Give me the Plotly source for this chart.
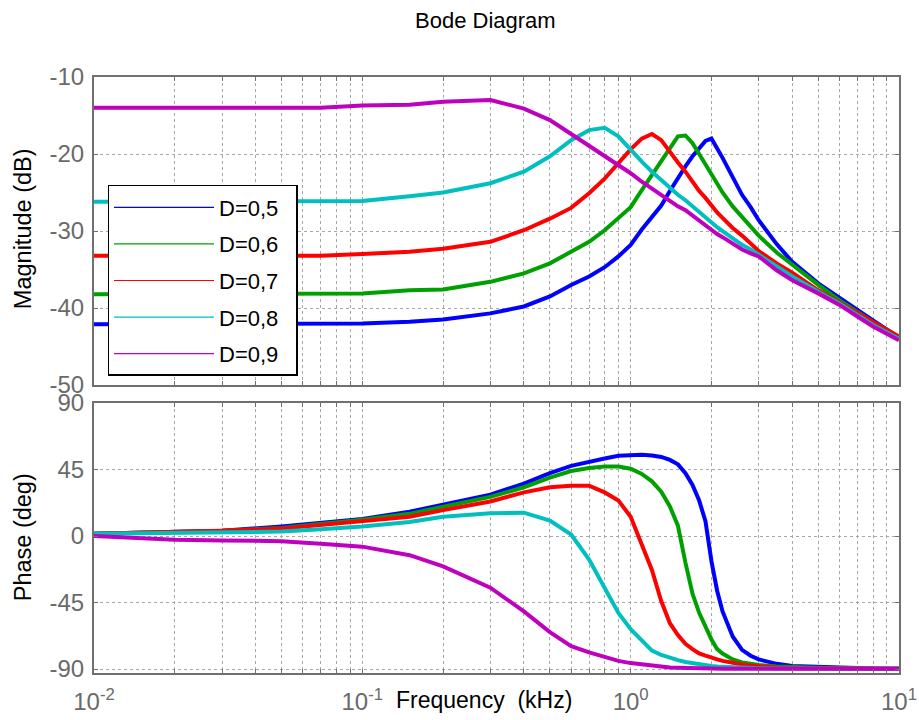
import plotly.graph_objects as go

# Frequency grid (kHz) shared by all curves
freq_khz = [0.01, 0.02, 0.03, 0.05, 0.07, 0.1, 0.15, 0.2, 0.3, 0.4, 0.5, 0.6, 0.7, 0.8, 0.9,
            1.0, 1.1, 1.2, 1.3, 1.4, 1.5, 1.6, 1.7, 1.8, 1.9, 2.0, 2.1, 2.2, 2.4, 2.6, 2.8,
            3.0, 3.5, 4.0, 5.0, 6.0, 7.0, 8.0, 10.0]

series_names = ["D=0,5", "D=0,6", "D=0,7", "D=0,8", "D=0,9"]
series_colors = ["#0000FF", "#00A000", "#FF0000", "#00BFBF", "#BF00BF"]

# Magnitude (dB)
mag_d05 = [-42.1, -42.1, -42.1, -42.1, -42.1, -42.0, -41.8, -41.5, -40.7, -39.8, -38.5, -37.0, -35.9,
           -34.7, -33.3, -31.8, -29.8, -28.1, -26.7, -24.8, -23.1, -21.6, -20.3, -19.2, -18.3, -18.0,
           -19.2, -20.5, -23.0, -25.3, -26.9, -28.6, -31.7, -34.0, -36.8, -38.7, -40.3, -41.6, -43.8]
mag_d06 = [-38.2, -38.2, -38.2, -38.2, -38.2, -38.1, -37.7, -37.6, -36.6, -35.5, -34.2, -32.7, -31.4,
           -29.9, -28.4, -26.9, -24.7, -22.7, -20.9, -19.1, -17.7, -17.6, -18.6, -20.0, -21.4, -22.7,
           -23.9, -25.0, -26.8, -28.2, -29.4, -30.6, -32.8, -34.4, -37.0, -39.0, -40.5, -41.8, -43.8]
mag_d07 = [-33.2, -33.2, -33.2, -33.2, -33.2, -33.0, -32.7, -32.3, -31.4, -29.9, -28.4, -27.0, -25.1,
           -23.2, -21.2, -19.4, -18.0, -17.4, -18.2, -19.8, -21.1, -22.3, -23.6, -24.8, -25.7, -26.7,
           -27.6, -28.3, -29.6, -30.6, -31.6, -32.6, -34.2, -35.4, -37.7, -39.2, -40.6, -41.8, -43.7]
mag_d08 = [-26.2, -26.2, -26.2, -26.2, -26.2, -26.1, -25.5, -25.0, -23.8, -22.3, -20.3, -18.2, -16.9,
           -16.6, -17.7, -19.5, -21.0, -22.3, -23.4, -24.5, -25.3, -26.0, -26.8, -27.4, -28.1, -28.8,
           -29.5, -30.0, -30.9, -31.8, -32.4, -33.1, -34.7, -35.9, -37.9, -39.4, -40.9, -42.2, -44.0]
mag_d09 = [-14.0, -14.0, -14.0, -14.0, -14.0, -13.7, -13.6, -13.2, -13.0, -14.1, -15.6, -17.4, -18.9,
           -20.3, -21.4, -22.5, -23.6, -24.5, -25.3, -26.1, -26.8, -27.3, -28.0, -28.7, -29.3, -29.8,
           -30.4, -30.8, -31.7, -32.4, -32.9, -33.3, -35.1, -36.4, -38.1, -39.6, -41.1, -42.4, -44.2]

# Phase (deg)
phase_d05 = [1.5, 2.5, 3.5, 6.5, 9.0, 11.5, 16.5, 21.0, 28.0, 35.5, 42.5, 47.5, 50.5, 52.5, 54.3,
             55.0, 55.0, 54.5, 53.5, 51.5, 48.5, 42.5, 34.5, 24.0, 10.0, -17.0, -37.0, -51.0, -68.0,
             -77.0, -81.0, -83.5, -86.5, -88.0, -88.7, -89.2, -89.5, -89.7, -89.8]
phase_d06 = [1.5, 2.5, 3.5, 5.5, 8.0, 11.0, 15.0, 19.5, 26.5, 33.0, 39.5, 44.0, 46.0, 47.0, 47.0,
             45.5, 42.0, 37.0, 30.0, 20.0, 7.0, -18.0, -39.0, -52.0, -62.0, -70.0, -76.5, -79.5,
             -83.5, -85.5, -86.5, -87.3, -88.3, -88.8, -89.2, -89.5, -89.6, -89.7, -89.8]
phase_d07 = [1.5, 2.5, 3.5, 5.0, 7.5, 9.7, 13.0, 17.5, 23.4, 29.5, 33.0, 34.0, 34.0, 29.5, 24.0,
             13.0, -5.0, -23.0, -44.0, -59.0, -67.0, -73.0, -76.5, -79.5, -81.0, -82.5, -83.5,
             -84.5, -86.0, -87.0, -87.8, -88.3, -89.0, -89.3, -89.5, -89.6, -89.7, -89.8, -89.8]
phase_d08 = [1.5, 2.0, 2.5, 3.0, 4.5, 6.5, 9.5, 13.0, 15.4, 15.8, 10.5, 1.0, -16.0, -35.0, -52.0,
             -63.0, -71.0, -77.5, -80.5, -82.5, -84.0, -85.3, -86.2, -87.0, -87.5, -88.0, -88.3,
             -88.5, -89.0, -89.2, -89.4, -89.5, -89.6, -89.7, -89.8, -89.8, -89.8, -89.8, -89.8]
phase_d09 = [0.0, -2.5, -3.0, -3.5, -5.2, -7.2, -13.0, -20.6, -35.0, -51.0, -65.0, -74.6, -78.8,
             -82.0, -84.5, -86.0, -87.0, -88.0, -88.5, -89.0, -89.2, -89.4, -89.5, -89.6, -89.7,
             -89.8, -89.8, -89.8, -89.9, -89.9, -89.9, -89.9, -89.9, -89.9, -89.9, -89.9, -89.9,
             -89.9, -89.9]

mag_tick_vals = [-50, -40, -30, -20, -10]
mag_tick_text = ["-50", "-40", "-30", "-20", "-10"]
phase_tick_vals = [-90, -45, 0, 45, 90]
phase_tick_text = ["-90", "-45", "0", "45", "90"]

mag_series = [mag_d05, mag_d06, mag_d07, mag_d08, mag_d09]
phase_series = [phase_d05, phase_d06, phase_d07, phase_d08, phase_d09]

# Log-axis grid: every 1..9 multiple of each decade, labels on decades only
freq_tick_vals = [m * 10.0 ** e for e in (-2, -1, 0) for m in range(1, 10)] + [10.0]
freq_tick_text = [f"10<sup>{e}</sup>" if m == 1 else "" for e in (-2, -1, 0) for m in range(1, 10)]
freq_tick_text.append("10<sup>1</sup>")

FONT = "Arial, Liberation Sans, Helvetica, sans-serif"
FRAME = "#707070"
GRID = "#a8a8a8"

fig = go.Figure()

for name, color, mag, ph in zip(series_names, series_colors, mag_series, phase_series):
    fig.add_trace(go.Scatter(x=freq_khz, y=mag, mode="lines", xaxis="x", yaxis="y",
                             line=dict(color=color, width=4), showlegend=False, name=name))
    fig.add_trace(go.Scatter(x=freq_khz, y=ph, mode="lines", xaxis="x2", yaxis="y2",
                             line=dict(color=color, width=4), showlegend=False, name=name))

# thin sample lines for the legend
for name, color in zip(series_names, series_colors):
    fig.add_trace(go.Scatter(x=[None], y=[None], mode="lines", xaxis="x", yaxis="y",
                             line=dict(color=color, width=1.2), name=name + "\u00a0" * 2,
                             legendgroup=name, showlegend=True))

axis_common = dict(showline=True, mirror="ticks", linecolor=FRAME, linewidth=2,
                   ticks="inside", ticklen=4, tickcolor=FRAME, tickwidth=1,
                   showgrid=True, gridcolor=GRID, griddash="dot", gridwidth=1,
                   zeroline=False, automargin=False,
                   tickfont=dict(family=FONT, size=24, color="#6a6a6a"))

fig.update_layout(
    width=919, height=720,
    margin=dict(l=94, r=20, t=77, b=47, autoexpand=False),
    paper_bgcolor="white", plot_bgcolor="white",
    font=dict(family=FONT),
    xaxis=dict(type="log", range=[-2, 1], domain=[0, 1], anchor="y", matches="x2",
               tickmode="array", tickvals=freq_tick_vals, ticktext=freq_tick_text,
               showticklabels=False, **axis_common),
    xaxis2=dict(type="log", range=[-2, 1], domain=[0, 1], anchor="y2",
                tickmode="array", tickvals=freq_tick_vals, ticktext=freq_tick_text,
                ticklabelstandoff=6, **axis_common),
    yaxis=dict(range=[-50, -10], domain=[0.4832, 1.0], anchor="x",
               tickmode="array", tickvals=mag_tick_vals, ticktext=mag_tick_text,
               ticklabelstandoff=3, **axis_common),
    yaxis2=dict(range=[-92.7, 90], domain=[0.0, 0.453], anchor="x2",
                tickmode="array", tickvals=phase_tick_vals, ticktext=phase_tick_text,
                ticklabelstandoff=3, **axis_common),
    legend=dict(x=0.0168, y=0.8188, xanchor="left", yanchor="top",
                bgcolor="white", bordercolor="black", borderwidth=1.5,
                font=dict(family=FONT, size=22, color="black"),
                itemwidth=100, tracegroupgap=5),
    annotations=[
        dict(text="Bode Diagram", x=0.4866, y=1.0956, xref="paper", yref="paper",
             showarrow=False, xanchor="center", yanchor="middle",
             font=dict(family=FONT, size=22, color="black")),
        dict(text="Frequency  (kHz)", x=0.4845, y=-0.0453, xref="paper", yref="paper",
             showarrow=False, xanchor="center", yanchor="middle",
             font=dict(family=FONT, size=23, color="black")),
        dict(text="Magnitude (dB)", x=-0.088, y=0.745, xref="paper", yref="paper",
             showarrow=False, textangle=-90, xanchor="center", yanchor="middle",
             font=dict(family=FONT, size=23.5, color="black")),
        dict(text="Phase (deg)", x=-0.088, y=0.228, xref="paper", yref="paper",
             showarrow=False, textangle=-90, xanchor="center", yanchor="middle",
             font=dict(family=FONT, size=23.5, color="black")),
    ],
)

fig.write_html("out.html")
